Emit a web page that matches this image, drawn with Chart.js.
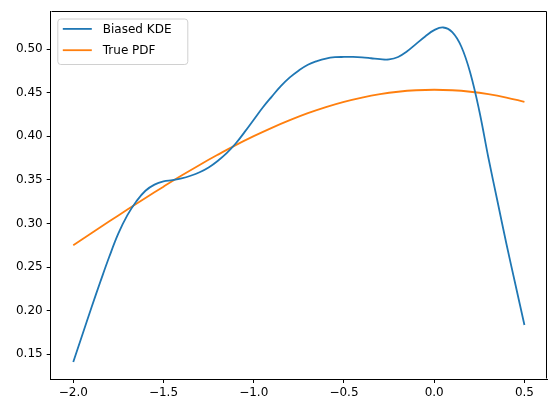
<!DOCTYPE html>
<html>
<head>
<meta charset="utf-8">
<style>
html,body{margin:0;padding:0;background:#fff;}
#wrap{width:556px;height:413px;position:relative;}
</style>
<script src="https://cdn.jsdelivr.net/npm/chart.js@4.4.0/dist/chart.umd.min.js"></script>
</head>
<body>
<div id="wrap"><canvas id="c" width="556" height="413"></canvas></div>
<script>
// ---- data ----
const kdeX = [-2.0,-1.95,-1.9,-1.85,-1.8,-1.75,-1.7,-1.65,-1.6,-1.55,-1.5,-1.45,-1.4,-1.35,-1.3,-1.25,-1.2,-1.15,-1.1,-1.05,-1.0,-0.95,-0.9,-0.85,-0.8,-0.75,-0.7,-0.65,-0.6,-0.55,-0.5,-0.45,-0.4,-0.35,-0.3,-0.25,-0.2,-0.15,-0.1,-0.05,0.0,0.05,0.1,0.15,0.2,0.25,0.3,0.35,0.4,0.45,0.5];
const kdeY = [0.141,0.172,0.203,0.233,0.262,0.2885,0.3095,0.3255,0.3375,0.3445,0.3482,0.3497,0.3517,0.3547,0.3587,0.3642,0.3717,0.3807,0.3917,0.405,0.419,0.433,0.4455,0.4575,0.4675,0.4755,0.482,0.4862,0.4892,0.4907,0.491,0.491,0.4905,0.4895,0.4884,0.4882,0.491,0.4975,0.506,0.5145,0.5218,0.5248,0.5195,0.503,0.4726,0.429,0.3756,0.326,0.2767,0.230,0.1835];
const pdfX = [-2.0,-1.9,-1.8,-1.7,-1.6,-1.5,-1.4,-1.3,-1.2,-1.1,-1.0,-0.9,-0.8,-0.7,-0.6,-0.5,-0.4,-0.3,-0.2,-0.1,0.0,0.1,0.2,0.3,0.4,0.5];
const pdfY = [0.2750,0.2888,0.3024,0.3159,0.3292,0.3422,0.3549,0.3671,0.3787,0.3898,0.4001,0.4097,0.4185,0.4265,0.4335,0.4395,0.4444,0.4483,0.4511,0.4528,0.4534,0.4528,0.4511,0.4483,0.4444,0.4395];
const xTicks = [-2.0,-1.5,-1.0,-0.5,0.0,0.5];
const yTicks = [0.15,0.20,0.25,0.30,0.35,0.40,0.45,0.50];
const seriesLabels = ['Biased KDE','True PDF'];
const seriesColors = ['#1f77b4','#ff7f0e'];

const FONT = {family:'"DejaVu Sans", sans-serif', size:12};
function fmt(v, d){ return v.toFixed(d).replace('-', '\u2212'); }

const framePlugin = {
  id:'frame',
  afterDraw(chart){
    const {ctx, chartArea:a} = chart;
    ctx.save();
    ctx.strokeStyle = '#000';
    ctx.lineWidth = 1;
    const l = Math.round(a.left)+0.5, r = Math.round(a.right)-0.5, t = Math.round(a.top)+0.5, b = Math.round(a.bottom)-0.5;
    ctx.beginPath();
    ctx.moveTo(l,t); ctx.lineTo(r,t); ctx.lineTo(r,b);
    ctx.stroke();
    ctx.restore();
  }
};

const legendPlugin = {
  id:'boxLegend',
  afterDraw(chart){
    const {ctx, chartArea:a} = chart;
    const L = a.left + 6.6, T = a.top + 7.3, W = 130, H = 45.5;
    ctx.save();
    ctx.beginPath();
    if (ctx.roundRect) ctx.roundRect(L+0.5, T+0.5, W, H, 3); else ctx.rect(L+0.5,T+0.5,W,H);
    ctx.fillStyle = 'rgba(255,255,255,0.8)';
    ctx.fill();
    ctx.strokeStyle = '#d0d0d0';
    ctx.lineWidth = 1;
    ctx.stroke();
    ctx.font = '12px "DejaVu Sans", sans-serif';
    ctx.textBaseline = 'middle';
    ctx.textAlign = 'left';
    chart.data.datasets.forEach((ds, i) => {
      const y = T + 10.4 + i*21.3;
      ctx.beginPath();
      ctx.strokeStyle = ds.borderColor;
      ctx.lineWidth = 1.8;
      ctx.moveTo(L+5.5, y); ctx.lineTo(L+34.5, y);
      ctx.stroke();
      ctx.fillStyle = '#000';
      ctx.fillText(ds.label, L+45.5, y+0.5);
    });
    ctx.restore();
  }
};

new Chart(document.getElementById('c'), {
  type:'line',
  data:{
    datasets:[
      {label:seriesLabels[0], data:kdeX.map((x,i)=>({x:x, y:kdeY[i]})), borderColor:seriesColors[0], backgroundColor:seriesColors[0], borderWidth:1.8, pointRadius:0, tension:0.4, fill:false},
      {label:seriesLabels[1], data:pdfX.map((x,i)=>({x:x, y:pdfY[i]})), borderColor:seriesColors[1], backgroundColor:seriesColors[1], borderWidth:1.8, pointRadius:0, tension:0.4, fill:false}
    ]
  },
  options:{
    responsive:false,
    animation:false,
    layout:{padding:{left:0, right:9, top:10, bottom:0}},
    scales:{
      x:{
        type:'linear', min:-2.125, max:0.625,
        afterBuildTicks(s){ s.ticks = xTicks.map(v=>({value:v})); },
        afterFit(s){ s.height = 34; },
        grid:{drawOnChartArea:false, drawTicks:true, tickLength:4, tickWidth:1, tickColor:'#000'},
        border:{display:true, color:'#000', width:1},
        ticks:{color:'#000', font:FONT, padding:3, maxRotation:0, autoSkip:false, callback:(v)=>fmt(v,1)}
      },
      y:{
        type:'linear', min:0.1215, max:0.5435,
        afterBuildTicks(s){ s.ticks = yTicks.map(v=>({value:v})); },
        afterFit(s){ s.width = 50.7; },
        grid:{drawOnChartArea:false, drawTicks:true, tickLength:4, tickWidth:1, tickColor:'#000'},
        border:{display:true, color:'#000', width:1},
        ticks:{color:'#000', font:FONT, padding:4, autoSkip:false, callback:(v)=>fmt(v,2)}
      }
    },
    plugins:{legend:{display:false}, tooltip:{enabled:false}}
  },
  plugins:[framePlugin, legendPlugin]
});
</script>
</body>
</html>
